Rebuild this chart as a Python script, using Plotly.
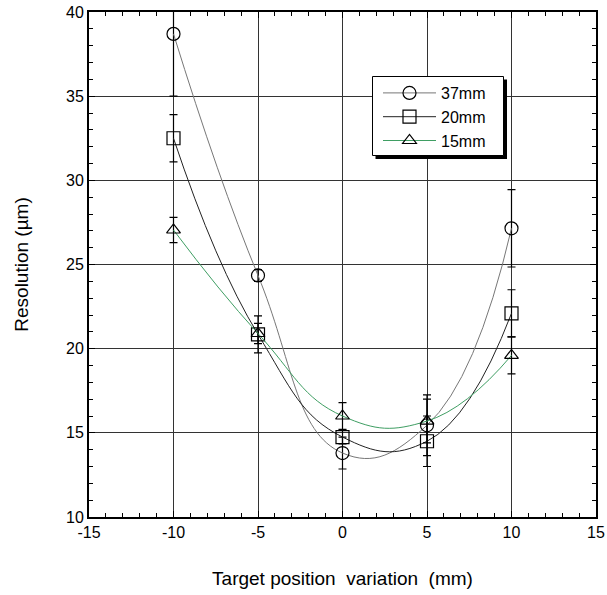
import plotly.graph_objects as go

x_pos = [-10, -5, 0, 5, 10]
r37 = [38.7, 24.35, 13.8, 15.45, 27.15]
r20 = [32.5, 20.85, 14.75, 14.5, 22.1]
r15 = [27.05, 20.9, 16.0, 15.7, 19.6]
e37 = [3.7, 0.35, 0.95, 1.8, 2.3]
e20 = [1.4, 1.1, 0.4, 1.5, 1.4]
e15 = [0.75, 0.6, 0.8, 1.3, 1.1]
names = ["37mm", "20mm", "15mm"]
x_ticks = [-15, -10, -5, 0, 5, 10, 15]
x_tick_labels = ["-15", "-10", "-5", "0", "5", "10", "15"]
y_ticks = [10, 15, 20, 25, 30, 35, 40]
y_tick_labels = ["10", "15", "20", "25", "30", "35", "40"]

series = [
    (names[0], r37, e37, "circle-open", "#777777", 13),
    (names[1], r20, e20, "square-open", "#222222", 13),
    (names[2], r15, e15, "triangle-up-open", "#3f9e63", 12),
]

fig = go.Figure()
for name, y, e, sym, col, ms in series:
    fig.add_trace(go.Scatter(
        x=x_pos, y=y, name=name, mode="lines+markers",
        line=dict(color=col, width=1, shape="spline", smoothing=1.3),
        marker=dict(symbol=sym, size=ms, color="black", line=dict(width=1.2, color="black")),
        error_y=dict(type="data", array=e, visible=True, color="black", thickness=1.2, width=4),
    ))

W, H = 607, 595
PL, PR, PT, PB = 89, 596, 12, 517
PW, PH = PR - PL, PB - PT

def px(xp):
    return (xp - PL) / PW

def py(yp):
    return (PB - yp) / PH

font = "Liberation Sans, Arial, sans-serif"
fig.update_layout(
    width=W, height=H,
    margin=dict(l=PL, r=W - PR, t=PT, b=H - PB, autoexpand=False),
    paper_bgcolor="white", plot_bgcolor="white",
    font=dict(family=font, size=16, color="black"),
    showlegend=True,
    legend=dict(x=px(378), y=py(76), xanchor="left", yanchor="top",
                bgcolor="rgba(0,0,0,0)", borderwidth=0,
                font=dict(size=16), tracegroupgap=0, itemwidth=53),
    xaxis=dict(range=[-15, 15], tickvals=x_ticks, ticktext=x_tick_labels,
               showgrid=True, gridcolor="#333333", gridwidth=1, automargin=False,
               ticklabeloverflow="allow",
               zeroline=False, showline=True, linecolor="black", linewidth=2, mirror="allticks",
               ticks="inside", ticklen=6, tickcolor="black",
               minor=dict(dtick=1, ticks="inside", ticklen=4, tickcolor="black", showgrid=False),
               title=dict(text="Target position\u00a0 variation\u00a0 (mm)", font=dict(size=19), standoff=31)),
    yaxis=dict(range=[10, 40], tickvals=y_ticks, ticktext=y_tick_labels,
               showgrid=True, gridcolor="#333333", gridwidth=1, automargin=False,
               ticklabeloverflow="allow",
               zeroline=False, showline=True, linecolor="black", linewidth=2, mirror="allticks",
               ticks="inside", ticklen=6, tickcolor="black",
               minor=dict(dtick=1, ticks="inside", ticklen=4, tickcolor="black", showgrid=False),
               title=dict(text="Resolution (µm)", font=dict(size=19), standoff=32)),
)

# legend frame with drop shadow (drawn as shapes behind the legend entries)
fig.add_shape(type="rect", xref="paper", yref="paper",
              x0=px(375.5), x1=px(507), y0=py(159), y1=py(79.5),
              line=dict(width=0), fillcolor="black", layer="above")
fig.add_shape(type="rect", xref="paper", yref="paper",
              x0=px(372.5), x1=px(503.5), y0=py(155.5), y1=py(76.5),
              line=dict(width=1, color="black"), fillcolor="white", layer="above")

fig.write_html("out.html", config={"displayModeBar": False},
               post_script="document.body.style.margin='0';document.body.style.overflow='hidden';")
